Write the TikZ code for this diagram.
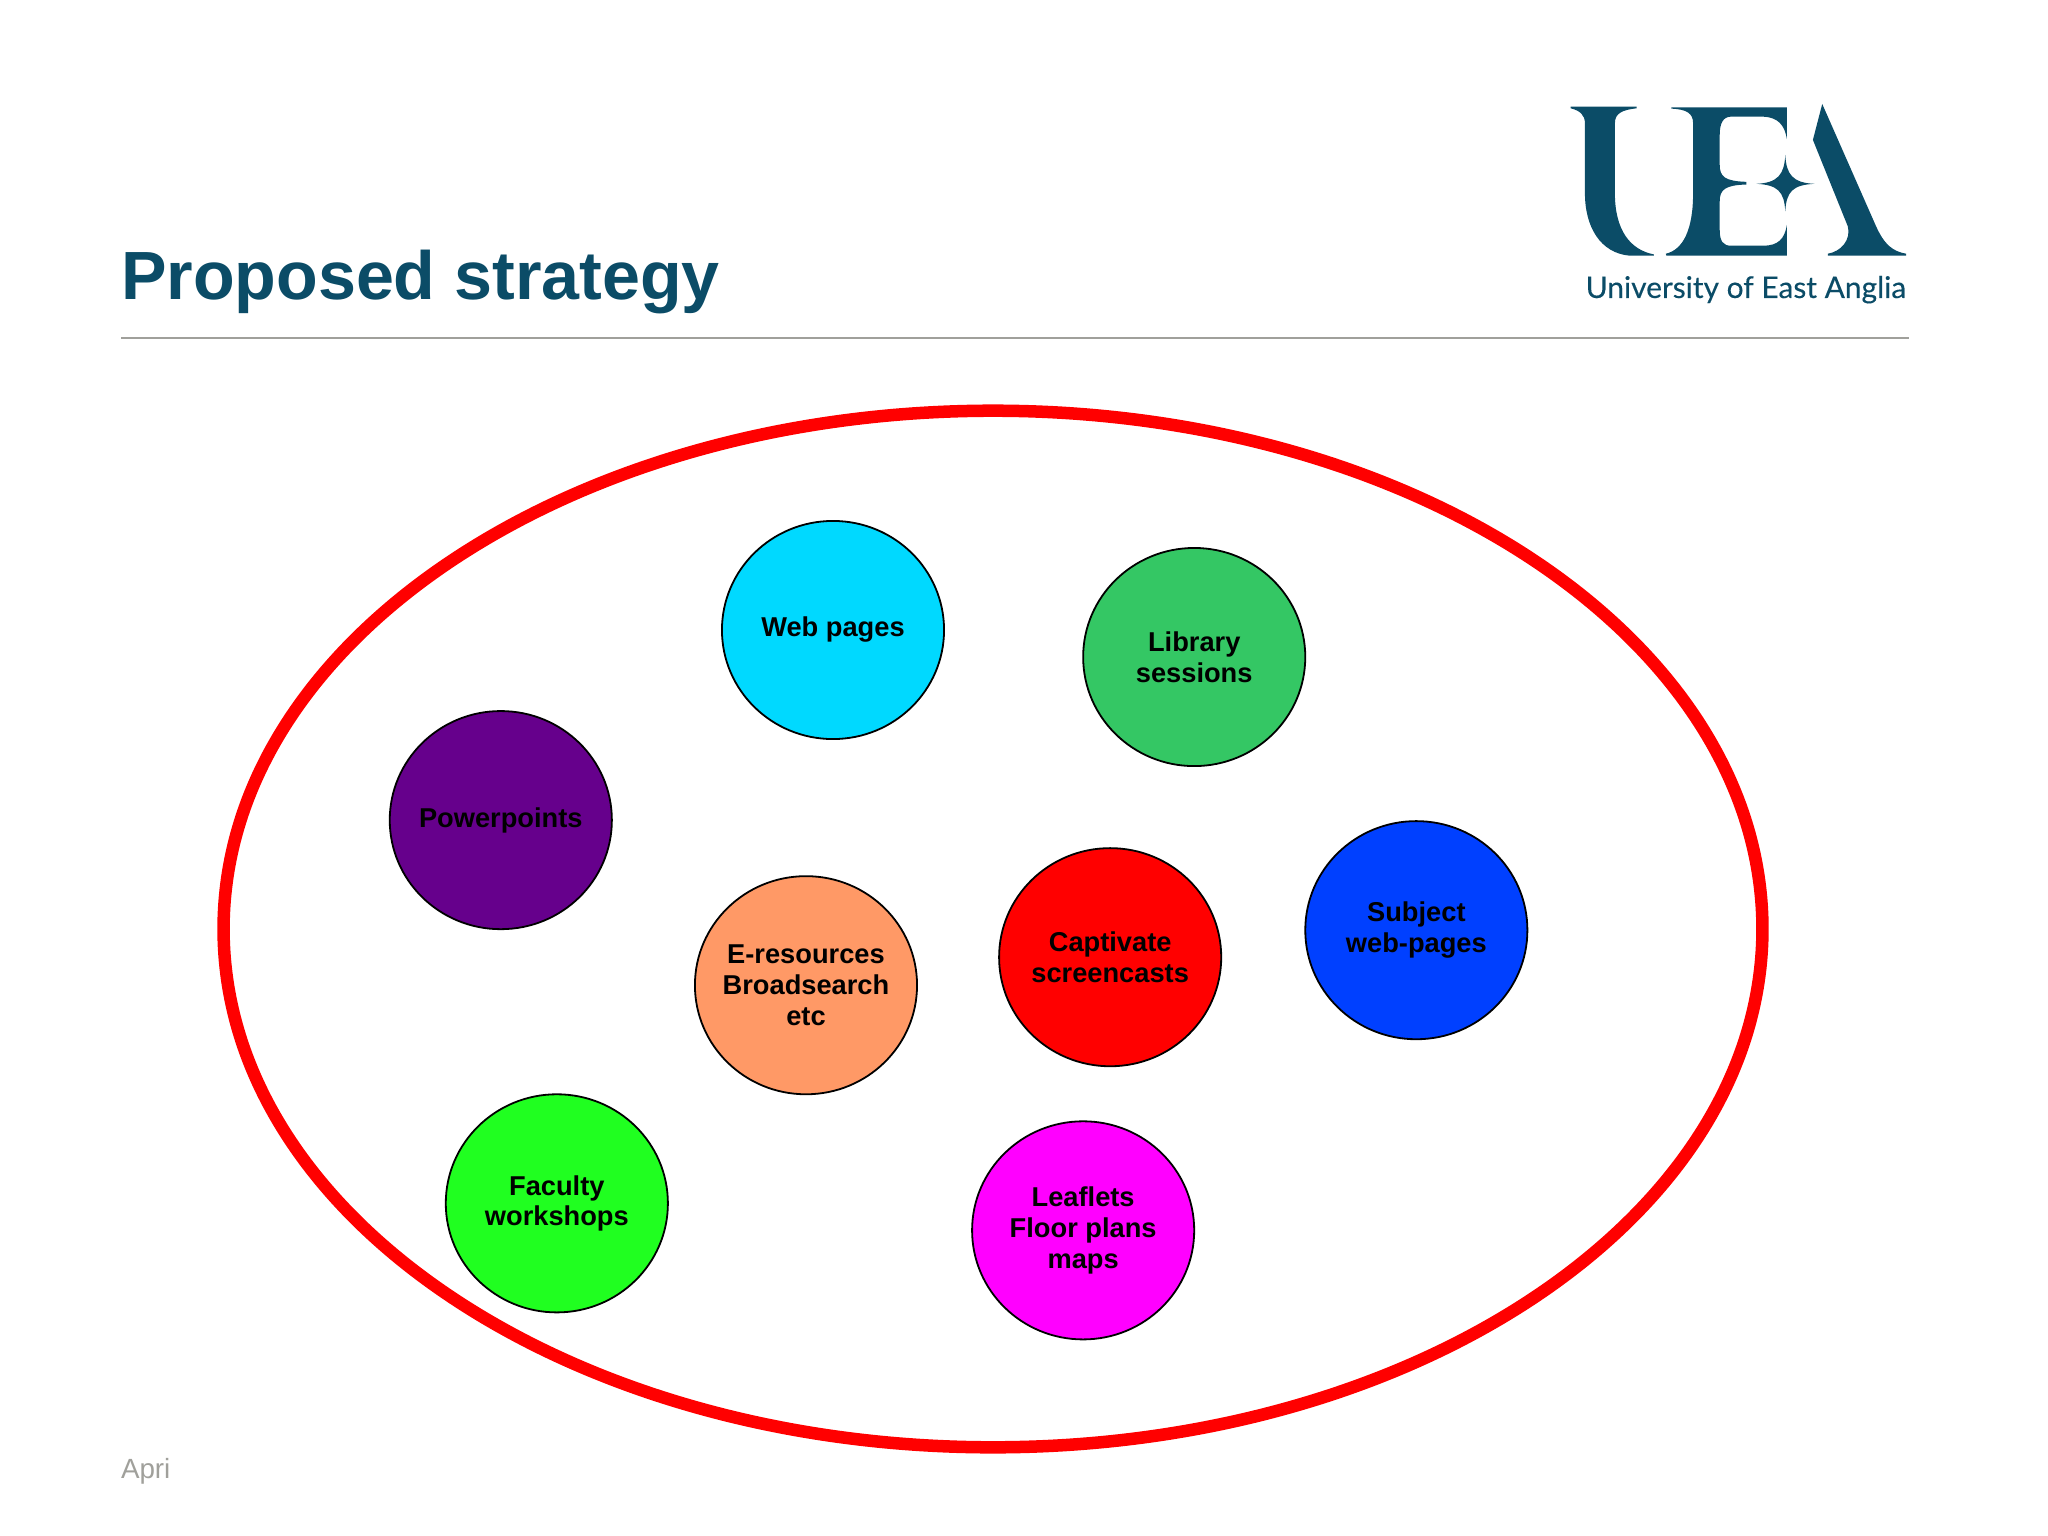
\documentclass[tikz,border=0pt]{standalone}
\usepackage{fontspec}
\setmainfont{Liberation Sans}
\newfontfamily\logofont[FakeBold=0.25]{Lato}
\usetikzlibrary{positioning, shapes.geometric}
\definecolor{uea_teal}{RGB}{11, 76, 103}
\definecolor{my_cyan}{RGB}{0, 217, 255}
\definecolor{my_green}{RGB}{52, 199, 100}
\definecolor{my_purple}{RGB}{102, 0, 140}
\definecolor{my_orange}{RGB}{255, 153, 102}
\definecolor{my_blue}{RGB}{0, 64, 255}
\definecolor{my_lime}{RGB}{32, 255, 32}
\definecolor{my_magenta}{RGB}{255, 0, 255}
\definecolor{my_gray}{RGB}{160, 160, 155}
\tikzset {
  bubble/.style = {draw, line width=0.18mm, ellipse, inner sep=-3mm, outer sep=0, minimum width=2.22cm, minimum height=2.18cm, align=center, font=\fontsize{7.75}{8.7}\selectfont\bfseries},
  boundary/.style = {draw=red, line width=1.25mm, ellipse, inner sep=0, outer sep=0, minimum width=15.38cm, minimum height=10.36cm},
  heading/.style = {anchor=base west, inner sep=0, outer sep=0, text=uea_teal, font=\fontsize{19.4}{23}\selectfont\bfseries},
  footer/.style = {anchor=base west, inner sep=0, outer sep=0, text=my_gray, font=\fontsize{7.9}{9}\selectfont},
  logotext/.style = {anchor=base east, inner sep=0, outer sep=0, text=uea_teal, font=\fontsize{8.5}{10}\logofont},
  rule/.style = {draw=my_gray, line width=0.16mm},
}
\begin{document}
\begin{tikzpicture}[x=0.01cm, y=-0.01cm]
    \useasboundingbox (0,0) rectangle (2048,1536);
    \node[heading] (title) at (121,299) {Proposed strategy};
    \coordinate (ruleleft) at (121,338);
    \coordinate (ruleright) at (1909,338);
    \draw[rule] (ruleleft) -- (ruleright);
    \node[footer] (date) at (121,1478) {Apri};

    \begin{scope}[shift={(1540,80)}, x=0.003333cm, y=-0.003333cm]
    \fill[uea_teal] (92,80) -- (290,80) -- (290,85) .. controls (250,90) and (225,98) .. (225,130) -- (225,340) .. controls (225,450) and (270,510) .. (342,524) -- (342,528) -- (270,528) .. controls (180,520) and (135,440) .. (135,340) -- (135,130) .. controls (135,105) and (120,92) .. (92,85) -- cycle;
    \fill[uea_teal] (395,82) -- (742,82) -- (742,178) .. controls (735,135) and (715,112) .. (670,110) -- (575,110) .. controls (550,110) and (540,130) .. (540,165) -- (540,255) .. controls (540,290) and (555,304) .. (620,306) -- (620,314) .. controls (555,316) and (540,330) .. (540,365) -- (540,450) .. controls (540,485) and (550,498) .. (575,498) -- (670,498) .. controls (715,498) and (735,478) .. (742,435) -- (742,528) -- (380,528) -- (378,522) .. controls (430,510) and (460,450) .. (460,340) -- (460,130) .. controls (460,100) and (440,88) .. (395,86) -- cycle;
    \fill[uea_teal] (737,225) .. controls (740,285) and (760,309) .. (825,312) .. controls (760,315) and (740,335) .. (737,395) .. controls (734,335) and (714,315) .. (650,312) .. controls (714,309) and (734,285) .. (737,225) -- cycle;
    \fill[uea_teal] (848,72) -- (820,180) -- (925,440) .. controls (935,480) and (905,515) .. (865,522) -- (865,528) -- (1100,528) -- (1100,522) .. controls (1060,515) and (1035,495) .. (1010,440) -- cycle;
    \node[logotext] (logoname) at (1100,655) {University of East Anglia};
    \end{scope}

    \node[boundary] (outline) at (993,929) {};
    \node[bubble, fill=my_cyan] (webpages) at (833,630) {Web pages};
    \node[bubble, fill=my_green, right=1.39cm of webpages, yshift=-0.27cm] (library) {Library\\sessions};
    \node[bubble, fill=my_purple, left=1.10cm of webpages, yshift=-1.90cm] (powerpoints) {Powerpoints};
    \node[bubble, fill=my_orange, below=1.37cm of webpages, xshift=-0.27cm] (eresources) {E-resources\\Broadsearch\\etc};
    \node[bubble, fill=red, right=0.82cm of eresources, yshift=0.28cm] (captivate) {Captivate\\screencasts};
    \node[bubble, fill=my_blue, right=0.84cm of captivate, yshift=0.27cm] (subject) {Subject\\web-pages};
    \node[bubble, fill=my_lime, below=1.65cm of powerpoints, xshift=0.56cm] (faculty) {Faculty\\workshops};
    \node[bubble, fill=my_magenta, below=0.55cm of captivate, xshift=-0.27cm] (leaflets) {Leaflets\\Floor plans\\maps};
  \end{tikzpicture}
\end{document}
